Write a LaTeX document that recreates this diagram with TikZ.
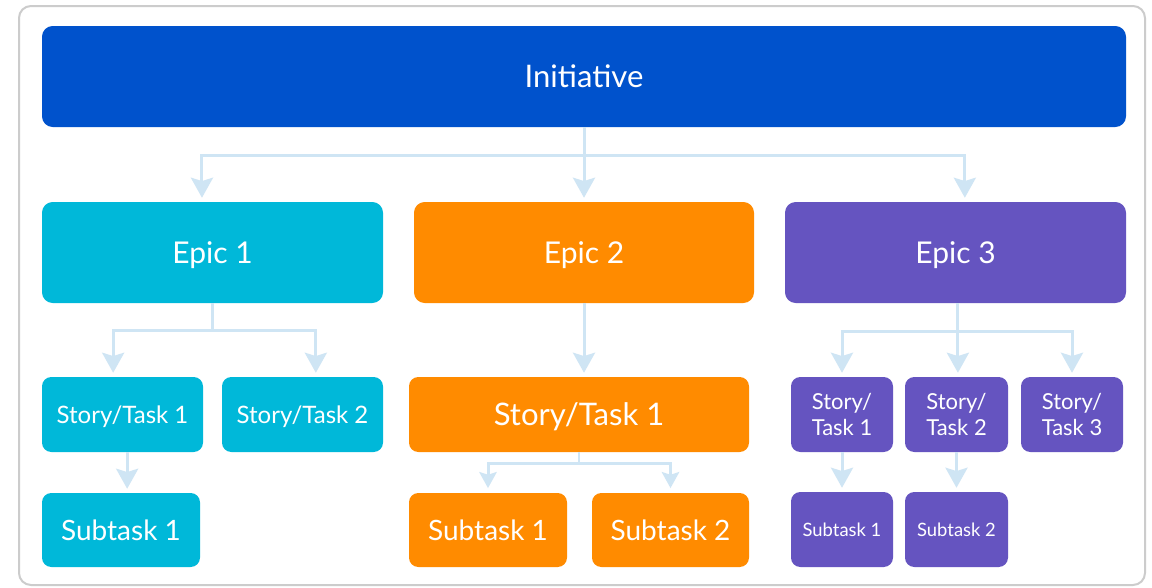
\documentclass[tikz,border=0pt]{standalone}
\usepackage{fontspec}
\setmainfont{Lato}
\usetikzlibrary{arrows.meta,calc}
\definecolor{cinit}{HTML}{0052CC}
\definecolor{ccyan}{HTML}{00B8D9}
\definecolor{corange}{HTML}{FF8B00}
\definecolor{cpurple}{HTML}{6554C0}
\definecolor{carrow}{HTML}{CFE5F4}
\definecolor{cframe}{HTML}{CCCCCC}
\tikzset{
  box/.style={inner sep=0pt, text=white, rounded corners=7pt, align=center},
  bigbox/.style={box, rounded corners=8pt, minimum height=75.75pt, text depth=0pt},
  stbox/.style={box, minimum height=56.25pt},
  onel/.style={text depth=0pt},
  subbox/.style={box, minimum height=55.5pt},
  finit/.style={font=\fontsize{23.3pt}{27pt}\selectfont},
  fbig/.style={font=\fontsize{22.5pt}{27pt}\selectfont},
  fost/.style={font=\fontsize{23.3pt}{27pt}\selectfont},
  fst/.style={font=\fontsize{18pt}{21pt}\selectfont},
  fsub/.style={font=\fontsize{21pt}{25pt}\selectfont},
  fpst/.style={font=\fontsize{16.5pt}{19pt}\selectfont},
  fpsub/.style={font=\fontsize{13.8pt}{16pt}\selectfont},
  conn/.style={draw=carrow, line width=2.25pt},
  arr/.style={conn, -{Stealth[length=15pt,width=16.5pt,inset=2.5pt]}, shorten >=3pt},
  arrs/.style={conn, -{Stealth[length=12pt,width=13pt,inset=2pt]}, shorten >=3.5pt},
}
\begin{document}
\begin{tikzpicture}[x=0.75pt,y=-0.75pt]
\useasboundingbox (0,0) rectangle (1152,587);
\fill[white] (0,0) rectangle (1152,587);
\draw[cframe, line width=1.5pt, rounded corners=9pt] (19,6) rectangle (1145,585);

% nodes
\node[bigbox, finit, fill=cinit, minimum width=813pt] (init) at (584,76.5) {Initiative};
\node[bigbox, fbig, fill=ccyan, minimum width=255.75pt] (e1) at (212.5,252.5) {Epic 1};
\node[bigbox, fbig, fill=corange, minimum width=255pt] (e2) at (584,252.5) {Epic 2};
\node[bigbox, fbig, fill=cpurple, minimum width=255.75pt] (e3) at (955.5,252.5) {Epic 3};

\node[stbox, onel, fst, fill=ccyan, minimum width=120.75pt] (s11) at (122.5,414.5) {Story/Task 1};
\node[stbox, onel, fst, fill=ccyan, minimum width=120.75pt] (s12) at (302.5,414.5) {Story/Task 2};
\node[subbox, fsub, fill=ccyan, minimum width=118.5pt] (u11) at (121,530) {Subtask 1};

\node[stbox, onel, fost, fill=corange, minimum width=255pt] (s21) at (579,414.5) {Story/Task 1};
\node[subbox, fsub, fill=corange, minimum width=118.5pt] (u21) at (488,530) {Subtask 1};
\node[subbox, fsub, fill=corange, minimum width=117.75pt] (u22) at (670.5,530) {Subtask 2};

\node[stbox, fpst, fill=cpurple, minimum width=76.5pt] (s31) at (842,414.5) {Story/\\Task 1};
\node[stbox, fpst, fill=cpurple, minimum width=77.25pt] (s32) at (956.5,414.5) {Story/\\Task 2};
\node[stbox, fpst, fill=cpurple, minimum width=76.5pt] (s33) at (1072,414.5) {Story/\\Task 3};
\node[stbox, fpsub, fill=cpurple, minimum width=76.5pt] (u31) at (842,529.5) {Subtask 1};
\node[stbox, fpsub, fill=cpurple, minimum width=77.25pt] (u32) at (956.5,529.5) {Subtask 2};

% connectors: initiative to epics
\draw[conn] (init.south) -- ++(0,28) coordinate (j0);
\draw[arr] (j0) -| ([xshift=-7.9pt]e1.north);
\draw[arr] (j0) -| ([xshift=7pt]e3.north);
\draw[arr] (init.south) -- (e2.north);

% epic 1
\draw[conn] (e1.south) -- ++(0,27) coordinate (b1);
\draw[arr] (b1) -| ([xshift=-7pt]s11.north);
\draw[arr] (b1) -| ([xshift=10pt]s12.north);
\draw[arr] ([xshift=3.5pt]s11.south) -- ([xshift=3.5pt]s11.south |- u11.north);

% epic 2
\draw[arr] (e2.south) -- (e2.south |- s21.north);
\draw[conn, line width=2pt] (s21.south) -- ++(0,11) coordinate (b2);
\draw[arrs] (b2) -| (u21.north);
\draw[arrs] (b2) -| (u22.north);

% epic 3
\draw[arr] ([xshift=1.8pt]e3.south) -- ([xshift=1.8pt]e3.south |- s32.north);
\draw[conn] (e3.south) ++(0,28) coordinate (b3);
\draw[arr] (b3) -| (s31.north);
\draw[arr] (b3) -| (s33.north);
\draw[arr] (s31.south) -- (u31.north);
\draw[arr] (s32.south) -- (u32.north);
\end{tikzpicture}
\end{document}
